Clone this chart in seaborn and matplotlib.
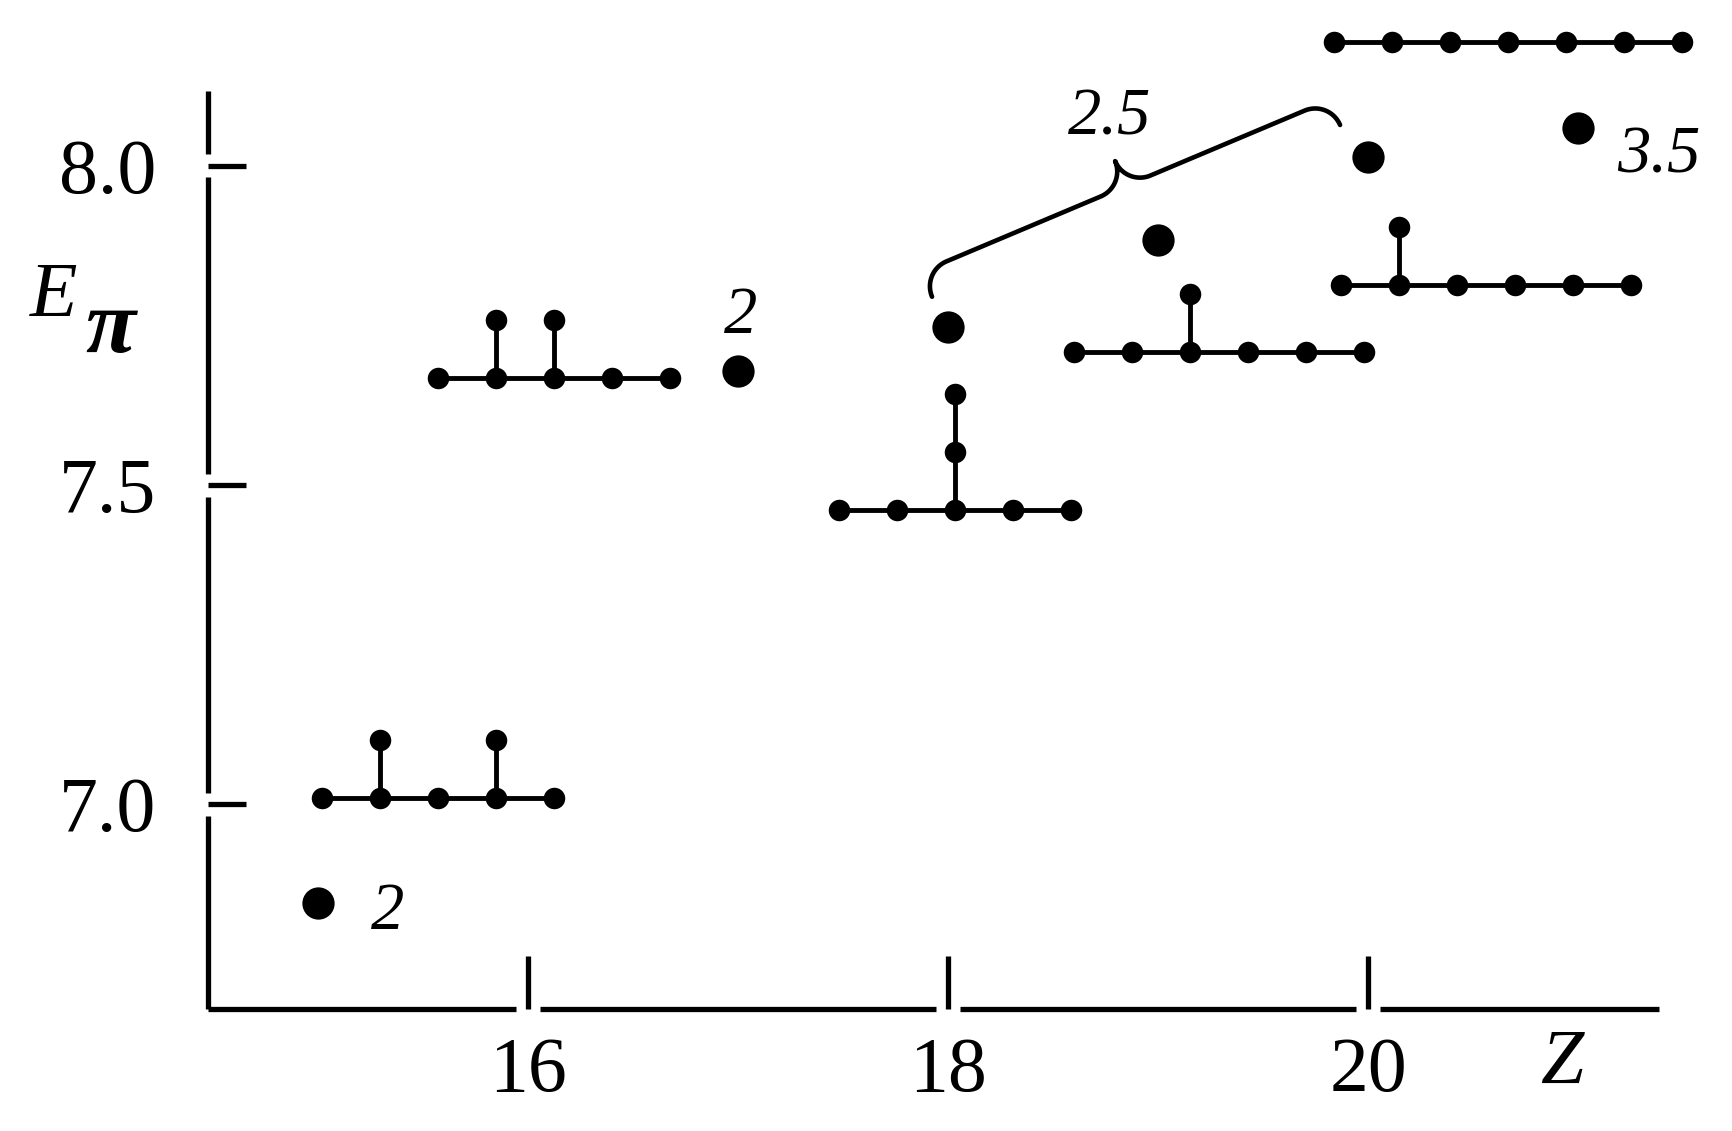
import matplotlib
matplotlib.use('Agg')
import matplotlib.pyplot as plt
import numpy as np
import pandas as pd
import seaborn as sns
from matplotlib.transforms import IdentityTransform

# large dots: E_pi of the compounds at each Z
dot_z = [15, 17, 18, 19, 20, 21]
dot_e = [6.845, 7.679, 7.748, 7.884, 8.014, 8.060]

# chain graphs: left end Z, level E, main chain length, branch sites, branch lengths
mol_z = [15.02, 15.57, 17.48, 18.60, 19.87, 19.84]
mol_e = [7.009, 7.668, 7.461, 7.708, 7.813, 8.194]
mol_len = [5, 5, 5, 6, 6, 7]
mol_branch_at = [[1, 3], [1, 2], [2], [2], [1], []]
mol_branch_len = [[1, 1], [1, 1], [2], [1], [1], []]

# numbers written next to dots
label_z = [15, 17, 21]
label_text = ['2', '2', '3.5']
brace_z = [18, 20]
brace_text = '2.5'

z_ticks = [16, 18, 20]
e_ticks = [7.0, 7.5, 8.0]
e_tick_labels = ['7.0', '7.5', '8.0']

sns.set_style('white')
plt.rcParams['font.family'] = ['Liberation Serif', 'DejaVu Serif']
plt.rcParams['text.color'] = 'black'

W, H = 1732, 1131
fig = plt.figure(figsize=(W / 100, H / 100), dpi=100)
ax = fig.add_axes([208 / W, 122 / H, 1524 / W, 1009 / H])

# 1. molecule graphs
bond_dz, bond_de = 0.276, 0.091
lw_bond = 3.5
rows = []
for k in range(len(mol_z)):
    xs = [mol_z[k] + i * bond_dz for i in range(mol_len[k])]
    ax.plot([xs[0], xs[-1]], [mol_e[k], mol_e[k]], color='black', lw=lw_bond, zorder=2)
    rows += [(x, mol_e[k]) for x in xs]
    for pos, ln in zip(mol_branch_at[k], mol_branch_len[k]):
        ys = [mol_e[k] + j * bond_de for j in range(ln + 1)]
        ax.plot([xs[pos], xs[pos]], [ys[0], ys[-1]], color='black', lw=lw_bond, zorder=2)
        rows += [(xs[pos], y) for y in ys[1:]]
nodes = pd.DataFrame(rows, columns=['Z', 'E'])
sns.scatterplot(data=nodes, x='Z', y='E', s=240, color='black', linewidth=0, ax=ax, zorder=3)

# 2. big dots
dots = pd.DataFrame({'Z': dot_z, 'E': dot_e})
sns.scatterplot(data=dots, x='Z', y='E', s=540, color='black', linewidth=0, ax=ax, zorder=3)

ax.set_xlim(14.476, 21.733)
ax.set_ylim(6.679, 8.260)

# 3. labels by the dots
label_off = [(70, -9), (3, 54), (81, -28)]
for z, t, off in zip(label_z, label_text, label_off):
    e = dot_e[dot_z.index(z)]
    ax.annotate(t, (z, e), xytext=off, textcoords='offset pixels', ha='center', va='center',
                fontsize=48, style='italic', color='black')

# 4. brace between two dots (built in pixel space)
p0 = ax.transData.transform((brace_z[0], dot_e[dot_z.index(brace_z[0])])) + np.array([-16, 30])
p1 = ax.transData.transform((brace_z[1], dot_e[dot_z.index(brace_z[1])])) + np.array([-28, 32])
L = np.linalg.norm(p1 - p0)
u = (p1 - p0) / L
n = np.array([-u[1], u[0]])
r = 27.0


def arc(cx, cy, a0, a1):
    t = np.radians(np.linspace(a0, a1, 30))
    return np.c_[cx + r * np.cos(t), cy + r * np.sin(t)]


pts = np.vstack([
    arc(r, 0, 180, 90),
    arc(L / 2 - r, 2 * r, -90, 0),
    arc(L / 2 + r, 2 * r, 180, 270),
    arc(L - r, 0, 90, 0),
])
bx = p0[0] + pts[:, 0] * u[0] + pts[:, 1] * n[0]
by = p0[1] + pts[:, 0] * u[1] + pts[:, 1] * n[1]
ax.plot(bx, by, color='black', lw=3.3, transform=IdentityTransform(), clip_on=False)
tip = p0 + (L / 2) * u + 2 * r * n
ax.text(tip[0] - 5, tip[1] + 43, brace_text, transform=IdentityTransform(), ha='center',
        va='center', fontsize=48, style='italic', color='black')

# 5. axes: broken axis lines with inward ticks
for s in ax.spines.values():
    s.set_visible(False)
ax.set_xticks(z_ticks)
ax.set_xticklabels([str(t) for t in z_ticks])
ax.set_yticks(e_ticks)
ax.set_yticklabels(e_tick_labels)
ax.tick_params(axis='x', bottom=True, direction='in', length=38, width=3.8, pad=20,
               labelsize=56, color='black', labelcolor='black')
ax.tick_params(axis='y', left=True, direction='in', length=27, width=3.8, pad=37,
               labelsize=56, color='black', labelcolor='black')

x0, _ = ax.get_xlim()
y0, _ = ax.get_ylim()
x_end, y_end = 21.386, 8.118
gx, gy = 0.057, 0.018
ex = [x0] + [v for t in z_ticks for v in (t - gx, t + gx)] + [x_end]
for a, b in zip(ex[::2], ex[1::2]):
    ax.plot([a, b], [y0, y0], color='black', lw=3.8, solid_capstyle='butt', clip_on=False)
ey = [y0] + [v for t in e_ticks for v in (t - gy, t + gy)] + [y_end]
for a, b in zip(ey[::2], ey[1::2]):
    ax.plot([x0, x0], [a, b], color='black', lw=3.8, solid_capstyle='butt', clip_on=False)

ax.set_xlabel('Z', fontsize=56, style='italic', color='black')
ax.xaxis.set_label_coords(0.888, -0.0545)
ax.xaxis.label.set_va('center')
ax.set_ylabel('')
fig.text(54 / W, 1 - 297 / H, 'E', fontsize=56, style='italic', ha='center', va='center')
fig.text(110 / W, 1 - 330 / H, '\u03c0', fontsize=66, style='italic', weight='bold',
         ha='center', va='center')

fig.savefig('out.png', dpi=100, facecolor='white')
